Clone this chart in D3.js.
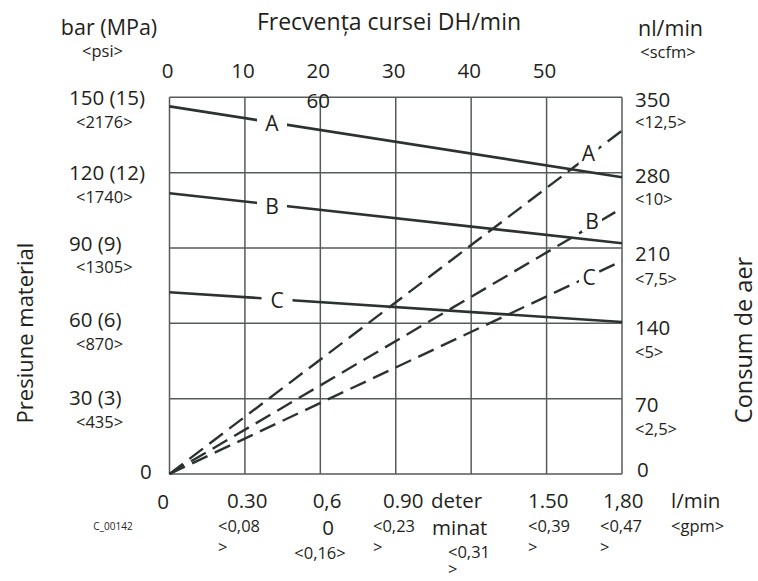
<!DOCTYPE html>
<html>
<head>
<meta charset="utf-8">
<script src="https://cdn.jsdelivr.net/npm/d3@7"></script>
<style>
  body { margin: 0; background: #fff; }
  svg text { font-family: "Open Sans", "Noto Sans", sans-serif; fill: #231f20; }
  .big { font-size: 20.5px; }
  .small { font-size: 16.5px; }
</style>
</head>
<body>
<div id="chart"></div>
<script>
// Stroke rate (top axis), pressure (left), air consumption (right)
var cycleTicks = [0, 10, 20, 30, 40, 50];
var pressureTicks = [0, 30, 60, 90, 120, 150];
var pressureLabels = ["0", "30 (3)", "60 (6)", "90 (9)", "120 (12)", "150 (15)"];
var psiLabels = ["", "<435>", "<870>", "<1305>", "<1740>", "<2176>"];
var airTicks = [0, 70, 140, 210, 280, 350];
var scfmLabels = ["", "<2,5>", "<5>", "<7,5>", "<10>", "<12,5>"];
var flowLabels = [
  ["0"], ["0.30", "<0,08", ">"], ["0,6", "0", "<0,16>"], ["0.90", "<0,23", ">"],
  ["deter", "minat", "<0,31", ">"], ["1.50", "<0,39", ">"], ["1,80", "<0,47", ">"]
];

// Curves: material pressure (solid) and air consumption (dashed)
var strokeRate = [0, 60];
var pressureA = [146.4, 118.2];
var pressureB = [111.8, 91.9];
var pressureC = [72.4, 60.5];
var airA = [0, 319];
var airB = [0, 247];
var airC = [0, 198];
var curveNames = ["A", "B", "C"];

var width = 758, height = 581;
var plot = { left: 169.5, right: 622, top: 97.3, bottom: 474 };

var svg = d3.select("#chart").append("svg")
  .attr("width", width)
  .attr("height", height);

var xScale = d3.scaleLinear().domain([0, 60]).range([plot.left, plot.right]);
var yPressure = d3.scaleLinear().domain([0, 150]).range([plot.bottom, plot.top]);
var yAir = d3.scaleLinear().domain([0, 350]).range([plot.bottom, plot.top]);

// grid
var grid = svg.append("g").attr("stroke", "#555b58").attr("stroke-width", 1.5);
grid.selectAll(".vgrid")
  .data(cycleTicks.concat([60]))
  .enter().append("line")
  .attr("x1", function(d) { return xScale(d); })
  .attr("x2", function(d) { return xScale(d); })
  .attr("y1", plot.top)
  .attr("y2", plot.bottom);
grid.selectAll(".hgrid")
  .data(pressureTicks)
  .enter().append("line")
  .attr("x1", plot.left)
  .attr("x2", plot.right)
  .attr("y1", function(d) { return yPressure(d); })
  .attr("y2", function(d) { return yPressure(d); });

// top axis labels
svg.selectAll(".toptick")
  .data(cycleTicks)
  .enter().append("text")
  .attr("class", "big")
  .attr("x", function(d) { return xScale(d) - 2; })
  .attr("y", 78)
  .attr("text-anchor", "middle")
  .text(function(d) { return d; });
svg.append("text").attr("class", "big")
  .attr("x", xScale(20) - 2).attr("y", 108)
  .attr("text-anchor", "middle").text("60");

// left axis labels (baseline offsets differ a little from row to row)
var leftDy = [5, 6, 3.5, 3, 7.5, 8];
var psiDy = [0, 29, 26.5, 25, 30, 31];
svg.selectAll(".lefttick")
  .data(pressureTicks)
  .enter().append("text")
  .attr("class", "big")
  .attr("x", function(d) { return d === 0 ? 140 : 69; })
  .attr("y", function(d, i) { return yPressure(d) + leftDy[i]; })
  .text(function(d, i) { return pressureLabels[i]; });
svg.selectAll(".psitick")
  .data(pressureTicks)
  .enter().append("text")
  .attr("class", "small")
  .attr("x", 76)
  .attr("y", function(d, i) { return yPressure(d) + psiDy[i]; })
  .text(function(d, i) { return psiLabels[i]; });

// right axis labels
var rightDy = [3, 13, 11.5, 13, 10, 9.5];
var scfmDy = [0, 36, 34.5, 37, 32, 31];
svg.selectAll(".righttick")
  .data(airTicks)
  .enter().append("text")
  .attr("class", "big")
  .attr("x", function(d) { return d === 0 ? 637 : 635; })
  .attr("y", function(d, i) { return yAir(d) + rightDy[i]; })
  .text(function(d) { return d; });
svg.selectAll(".scfmtick")
  .data(airTicks)
  .enter().append("text")
  .attr("class", "small")
  .attr("x", 635)
  .attr("y", function(d, i) { return yAir(d) + scfmDy[i]; })
  .text(function(d, i) { return scfmLabels[i]; });

// bottom labels (the flow column, laid out as in the drawing)
var flowLayout = [
  [{ x: 163, y: 509, a: "middle", c: "big" }],
  [{ x: 227, y: 508, a: "start", c: "big" }, { x: 218, y: 532, a: "start", c: "small" }, { x: 218, y: 553, a: "start", c: "small" }],
  [{ x: 327, y: 508, a: "middle", c: "big" }, { x: 328, y: 535, a: "middle", c: "big" }, { x: 320, y: 559, a: "middle", c: "small" }],
  [{ x: 383, y: 508, a: "start", c: "big" }, { x: 373, y: 532, a: "start", c: "small" }, { x: 373, y: 553, a: "start", c: "small" }],
  [{ x: 431, y: 508, a: "start", c: "big" }, { x: 432, y: 535, a: "start", c: "big" }, { x: 448, y: 558, a: "start", c: "small" }, { x: 448, y: 575, a: "start", c: "small" }],
  [{ x: 528, y: 508, a: "start", c: "big" }, { x: 528, y: 532, a: "start", c: "small" }, { x: 528, y: 553, a: "start", c: "small" }],
  [{ x: 603, y: 508, a: "start", c: "big" }, { x: 600, y: 532, a: "start", c: "small" }, { x: 600, y: 553, a: "start", c: "small" }]
];
flowLabels.forEach(function(lines, i) {
  lines.forEach(function(t, j) {
    var l = flowLayout[i][j];
    svg.append("text").attr("class", l.c)
      .attr("x", l.x).attr("y", l.y)
      .attr("text-anchor", l.a).text(t);
  });
});

// curves
var pressureLine = d3.line()
  .x(function(d) { return xScale(d[0]); })
  .y(function(d) { return yPressure(d[1]); });
var airLine = d3.line()
  .x(function(d) { return xScale(d[0]); })
  .y(function(d) { return yAir(d[1]); });

var curves = svg.append("g").attr("fill", "none").attr("stroke", "#2b3330");
[pressureA, pressureB, pressureC].forEach(function(p) {
  curves.append("path")
    .datum(d3.zip(strokeRate, p))
    .attr("stroke-width", 2.6)
    .attr("d", pressureLine);
});
[airA, airB, airC].forEach(function(a) {
  curves.append("path")
    .datum(d3.zip(strokeRate, a))
    .attr("stroke-width", 2.4)
    .attr("stroke-dasharray", "17,8")
    .attr("d", airLine);
});

// curve labels sitting in gaps of the lines
function curveLabel(x, yLine, dy, txt, w) {
  var cy = yLine + dy;
  svg.append("rect")
    .attr("x", x - w / 2).attr("y", cy - 11)
    .attr("width", w).attr("height", 22)
    .attr("fill", "#fff");
  svg.append("text").attr("class", "big")
    .style("font-size", "21px")
    .attr("x", x).attr("y", cy + 7.5)
    .attr("text-anchor", "middle").text(txt);
}
var solidLabelX = [272, 272, 277];
var solidLabelDy = [1.5, 1.5, 1];
[pressureA, pressureB, pressureC].forEach(function(p, i) {
  var s = xScale.invert(solidLabelX[i]);
  var y = yPressure(p[0] + (p[1] - p[0]) * s / 60);
  curveLabel(solidLabelX[i], y, solidLabelDy[i], curveNames[i], i === 2 ? 31 : 30);
});
var dashLabelX = [588.5, 592, 589];
var dashLabelDy = [-2.5, -4.5, 1];
[airA, airB, airC].forEach(function(a, i) {
  var s = xScale.invert(dashLabelX[i]);
  var y = yAir(a[0] + (a[1] - a[0]) * s / 60);
  curveLabel(dashLabelX[i], y, dashLabelDy[i], curveNames[i], 20);
});

// headers and axis titles
svg.append("text").attr("class", "big")
  .style("font-size", "23px")
  .attr("x", 389).attr("y", 30).attr("text-anchor", "middle")
  .text("Frecvența cursei DH/min");
svg.append("text").attr("class", "big")
  .style("font-size", "21.5px")
  .attr("x", 109).attr("y", 35).attr("text-anchor", "middle").text("bar (MPa)");
svg.append("text").attr("class", "small")
  .attr("x", 102.5).attr("y", 57).attr("text-anchor", "middle").text("<psi>");
svg.append("text").attr("class", "big")
  .style("font-size", "21.5px")
  .attr("x", 670.5).attr("y", 36).attr("text-anchor", "middle").text("nl/min");
svg.append("text").attr("class", "small")
  .attr("x", 668).attr("y", 58).attr("text-anchor", "middle").text("<scfm>");
svg.append("text").attr("class", "big")
  .attr("x", 671).attr("y", 508).text("l/min");
svg.append("text").attr("class", "small")
  .attr("x", 671).attr("y", 532).text("<gpm>");
svg.append("text")
  .attr("transform", "translate(33,333) rotate(-90)")
  .attr("text-anchor", "middle").style("font-size", "22px").text("Presiune material");
svg.append("text")
  .attr("transform", "translate(752,340) rotate(-90)")
  .attr("text-anchor", "middle").style("font-size", "23.5px").text("Consum de aer");
svg.append("text")
  .attr("x", 113).attr("y", 530).attr("text-anchor", "middle")
  .style("font-size", "10px").text("C_00142");
</script>
</body>
</html>
